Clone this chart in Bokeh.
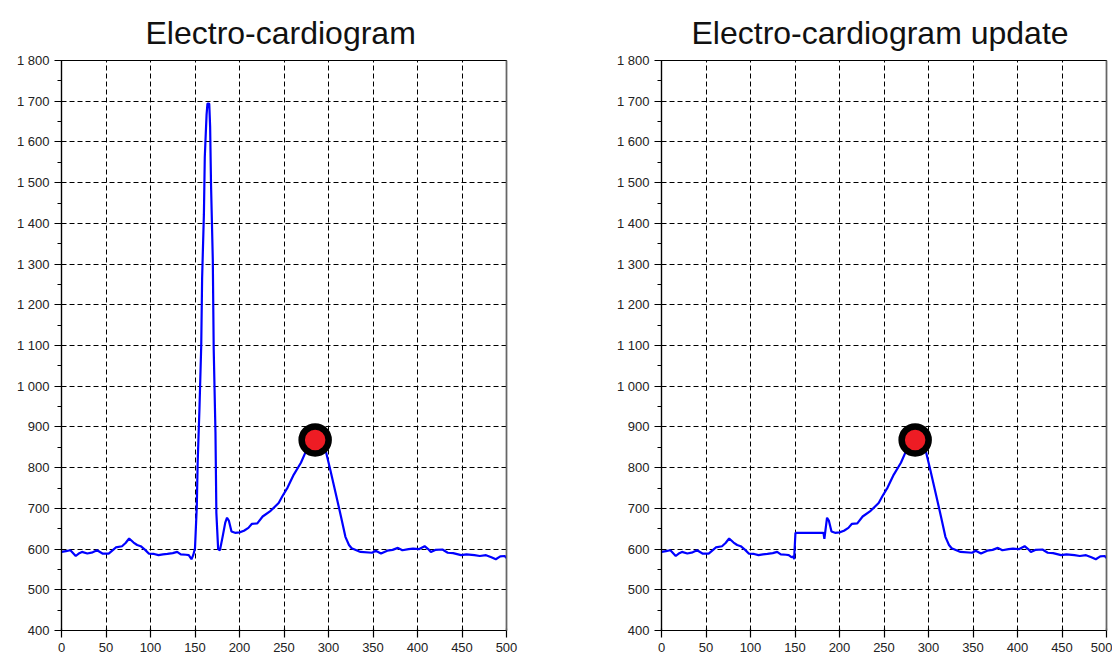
from bokeh.plotting import figure
from bokeh.layouts import row
from bokeh.models import FixedTicker, LinearAxis, Range1d, Title, Grid
from bokeh.embed import file_html
from bokeh.resources import INLINE

# ---- data ----
x_ecg = [0, 5, 10, 16, 20, 23, 29, 35, 40, 46, 53, 58, 61, 68, 72, 76, 81, 85, 89, 94,
         98, 104, 109, 114, 119, 125, 130, 134, 140, 143, 146, 148, 150, 152, 153, 155,
         157, 158, 160, 161, 163, 164, 166, 167, 168, 170, 171, 173, 174, 176, 178, 181,
         184, 186, 188, 191, 195, 200, 205, 210, 214, 220, 226, 235, 244, 248, 254, 261,
         269, 274, 280, 286, 290, 294, 297, 302, 308, 314, 319, 323, 326, 336, 349, 353,
         359, 366, 372, 378, 383, 390, 395, 402, 408, 412, 415, 420, 428, 434, 440, 449,
         455, 464, 470, 477, 483, 488, 493, 498, 500]
y_ecg = [593, 595, 597, 583, 590, 593, 589, 592, 597, 589, 589, 598, 604, 607, 615, 626,
         616, 610, 607, 598, 589, 588, 585, 587, 588, 590, 593, 587, 586, 585, 575, 585,
         602, 704, 813, 944, 1100, 1266, 1422, 1563, 1667, 1694, 1694, 1637, 1496, 1310,
         1093, 887, 689, 600, 597, 630, 665, 677, 670, 643, 640, 641, 645, 652, 662, 663,
         680, 694, 713, 729, 751, 783, 812, 837, 858, 868, 866, 855, 840, 795, 738, 680,
         630, 610, 602, 593, 591, 596, 589, 596, 598, 603, 597, 600, 601, 600, 607, 600,
         593, 598, 599, 591, 590, 585, 587, 585, 583, 585, 580, 575, 582, 583, 578]

x_upd = [0, 5, 10, 16, 20, 23, 29, 35, 40, 46, 53, 58, 61, 68, 72, 76, 81, 85, 89, 94,
         98, 104, 109, 114, 119, 125, 130, 134, 140, 143, 146, 148, 149, 150.5, 182, 183,
         186, 188, 191, 195, 200, 205, 210, 214, 220, 226, 235, 244, 248, 254, 261, 269,
         274, 280, 286, 290, 294, 297, 302, 308, 314, 319, 323, 326, 336, 349, 353, 359,
         366, 372, 378, 383, 390, 395, 402, 408, 412, 415, 420, 428, 434, 440, 449, 455,
         464, 470, 477, 483, 488, 493, 498, 500]
y_upd = [593, 595, 597, 583, 590, 593, 589, 592, 597, 589, 589, 598, 604, 607, 615, 626,
         616, 610, 607, 598, 589, 588, 585, 587, 588, 590, 593, 587, 586, 585, 580, 582,
         575, 640, 640, 625, 677, 670, 643, 640, 641, 645, 652, 662, 663, 680, 694, 713,
         729, 751, 783, 812, 837, 858, 868, 866, 855, 840, 795, 738, 680, 630, 610, 602,
         593, 591, 596, 589, 596, 598, 603, 597, 600, 601, 600, 607, 600, 593, 598, 599,
         591, 590, 585, 587, 585, 583, 585, 580, 575, 582, 583, 578]

marker_x = [285]
marker_y = [868]

titles = ["Electro-cardiogram", "Electro-cardiogram update"]
x_ticks = [0, 50, 100, 150, 200, 250, 300, 350, 400, 450, 500]
y_ticks = [400, 500, 600, 700, 800, 900, 1000, 1100, 1200, 1300, 1400, 1500, 1600, 1700, 1800]
y_minor = [450, 550, 650, 750, 850, 950, 1050, 1150, 1250, 1350, 1450, 1550, 1650, 1750]
y_labels = {v: (f"{v // 1000} {v % 1000:03d}" if v >= 1000 else str(v)) for v in y_ticks}

FONT = "Liberation Sans"


def make_fig(title, xs, ys, width, title_offset):
    p = figure(width=width, height=658, output_backend="svg", toolbar_location=None,
               x_range=Range1d(0, 500), y_range=Range1d(400, 1800),
               min_border_left=61, min_border_right=width - 61 - 445,
               min_border_top=60, min_border_bottom=28,
               x_axis_type=None, y_axis_type=None)
    p.title = Title(text=title, text_font=FONT, text_font_size="32px",
                    text_font_style="normal", text_color="#111111", align="left",
                    standoff=20, offset=title_offset)
    p.outline_line_color = "black"
    p.outline_line_width = 1.2
    p.background_fill_color = "white"
    p.border_fill_color = "white"

    xt = FixedTicker(ticks=x_ticks)
    yt = FixedTicker(ticks=y_ticks, minor_ticks=y_minor)
    xa = LinearAxis(ticker=xt)
    ya = LinearAxis(ticker=yt, major_label_overrides=y_labels)
    for a in (xa, ya):
        a.axis_line_color = "black"
        a.axis_line_width = 1.2
        a.major_tick_line_color = "black"
        a.major_tick_line_width = 1.2
        a.major_tick_in = 2
        a.major_tick_out = 7
        a.major_label_text_font = FONT
        a.major_label_text_font_size = "13px"
        a.major_label_text_color = "#222222"
        a.major_label_standoff = 5
    xa.minor_tick_line_color = None
    ya.minor_tick_line_color = "black"
    ya.minor_tick_line_width = 1.2
    ya.minor_tick_in = 0
    ya.minor_tick_out = 4
    p.add_layout(xa, "below")
    p.add_layout(ya, "left")

    right = LinearAxis(ticker=FixedTicker(ticks=[]), axis_line_color="#666666",
                       axis_line_width=1.5, major_label_text_font_size="0px",
                       major_tick_line_color=None, minor_tick_line_color=None)
    p.add_layout(right, "right")

    for dim, tk in ((0, xt), (1, FixedTicker(ticks=y_ticks))):
        g = Grid(dimension=dim, ticker=tk, grid_line_color="black",
                 grid_line_dash="5 3", grid_line_width=1)
        p.add_layout(g, "center")

    p.line(xs, ys, line_color="#0000ff", line_width=2.2)
    p.scatter(marker_x, marker_y, size=27, fill_color="#ee1c24",
              line_color="black", line_width=6.5)
    return p


p1 = make_fig(titles[0], x_ecg, y_ecg, 600, 84)
p2 = make_fig(titles[1], x_upd, y_upd, 512, 30)
layout = row(p1, p2)

open("out.html", "w").write(file_html(layout, INLINE))
